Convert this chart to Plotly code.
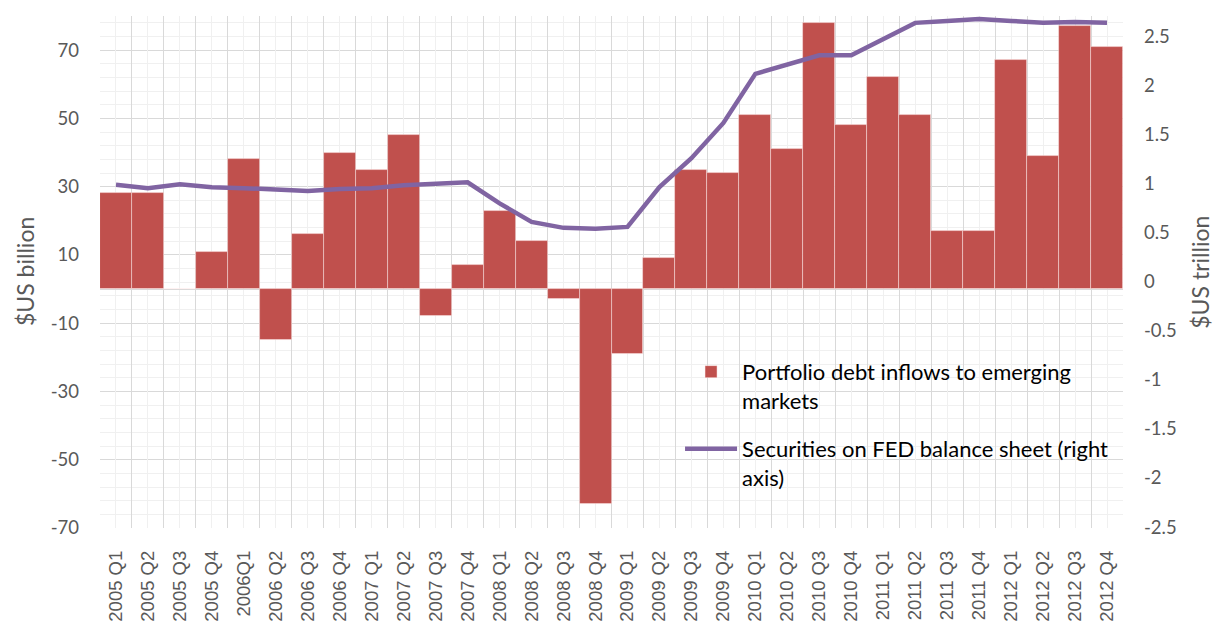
import plotly.graph_objects as go

categories = ["2005 Q1", "2005 Q2", "2005 Q3", "2005 Q4", "2006Q1", "2006 Q2", "2006 Q3", "2006 Q4",
              "2007 Q1", "2007 Q2", "2007 Q3", "2007 Q4", "2008 Q1", "2008 Q2", "2008 Q3", "2008 Q4",
              "2009 Q1", "2009 Q2", "2009 Q3", "2009 Q4", "2010 Q1", "2010 Q2", "2010 Q3", "2010 Q4",
              "2011 Q1", "2011 Q2", "2011 Q3", "2011 Q4", "2012 Q1", "2012 Q2", "2012 Q3", "2012 Q4"]

debt_inflows = [28, 28, 0, 11, 38, -15, 16, 40,
                35, 45, -8, 7, 23, 14, -3, -63,
                -19, 9, 35, 34, 51, 41, 78, 48,
                62, 51, 17, 17, 67, 39, 77, 71]

fed_securities = [0.99, 0.955, 0.995, 0.965, 0.955, 0.935, 0.925, 0.945,
                  0.955, 0.985, 1.005, 1.015, 0.80, 0.61, 0.55, 0.54,
                  0.56, 0.965, 1.26, 1.62, 2.12, 2.21, 2.31, 2.31,
                  2.47, 2.64, 2.66, 2.68, 2.66, 2.64, 2.65, 2.64]

left_tick_vals = [-70, -50, -30, -10, 10, 30, 50, 70]
left_tick_text = ["-70", "-50", "-30", "-10", "10", "30", "50", "70"]
right_tick_vals = [-2.5, -2, -1.5, -1, -0.5, 0, 0.5, 1, 1.5, 2, 2.5]
right_tick_text = ["-2.5", "-2", "-1.5", "-1", "-0.5", "0", "0.5", "1", "1.5", "2", "2.5"]

name_bar = "Portfolio debt inflows to emerging<br>markets"
name_line = "Securities on FED balance sheet (right<br>axis)"

BAR_COLOR = "#C0504D"
LINE_COLOR = "#8064A2"
MAJOR = "#d9d9d9"
MINOR = "#f0f0f0"
TICK_COLOR = "#595959"

fig = go.Figure()
fig.add_trace(go.Bar(
    x=categories, y=debt_inflows, name=name_bar,
    marker=dict(color=BAR_COLOR, line=dict(color="rgba(255,235,235,0.6)", width=0.8)),
    xaxis="x", yaxis="y", legendgroup="a",
))
fig.add_trace(go.Scatter(
    x=categories, y=fed_securities, name=name_line, mode="lines",
    line=dict(color=LINE_COLOR, width=4.5),
    xaxis="x2", yaxis="y2", legendgroup="b",
))

# page body has an 8px margin: figure is sized/offset to compensate
fig.update_layout(
    width=1213, height=618,
    margin=dict(l=92, r=98, t=8, b=98, autoexpand=False),
    paper_bgcolor="white", plot_bgcolor="white",
    bargap=0,
    showlegend=True,
    legend=dict(
        x=0.567, y=0.346, xanchor="left", yanchor="top",
        bgcolor="rgba(0,0,0,0)", font=dict(family="Lato", size=22, color="#000000"),
        itemwidth=52, valign="top", traceorder="grouped", tracegroupgap=17,
    ),
    xaxis=dict(
        type="category", categoryorder="array", categoryarray=categories,
        range=[-0.5, len(categories) - 0.5], automargin=False,
        tickson="boundaries", showgrid=True, gridcolor=MAJOR, gridwidth=1,
        ticks="", tickangle=-90, ticklabelstandoff=18,
        tickfont=dict(family="Liberation Sans", size=18.5, color=TICK_COLOR),
        showline=False, zeroline=False,
    ),
    xaxis2=dict(
        type="category", categoryorder="array", categoryarray=categories,
        range=[-0.5, len(categories) - 0.5], automargin=False,
        overlaying="x", anchor="y2", side="bottom",
        showgrid=True, gridcolor=MINOR, gridwidth=1,
        showticklabels=False, ticks="", showline=False, zeroline=False,
    ),
    yaxis=dict(
        range=[-70, 80], tickmode="array", tickvals=left_tick_vals, ticktext=left_tick_text,
        automargin=False,
        showgrid=True, gridcolor=MAJOR, gridwidth=1,
        minor=dict(tickmode="linear", tick0=-70, dtick=4, showgrid=True, gridcolor=MINOR, gridwidth=1),
        zeroline=True, zerolinecolor=MAJOR, zerolinewidth=1,
        ticks="", ticklabelstandoff=20,
        tickfont=dict(family="Lato", size=18.5, color=TICK_COLOR),
    ),
    yaxis2=dict(
        range=[-2.51, 2.71], tickmode="array", tickvals=right_tick_vals, ticktext=right_tick_text,
        overlaying="y", side="right", anchor="x2", automargin=False,
        showgrid=False, zeroline=False, ticks="", ticklabelstandoff=20,
        tickfont=dict(family="Lato", size=18.5, color=TICK_COLOR),
    ),
    annotations=[
        dict(text="$US billion", xref="paper", yref="paper", x=-0.0733, y=0.5, xanchor="center", yanchor="middle",
             textangle=-90, showarrow=False, font=dict(family="Lato", size=23, color=TICK_COLOR)),
        dict(text="$US trillion", xref="paper", yref="paper", x=1.075, y=0.5, xanchor="center", yanchor="middle",
             textangle=-90, showarrow=False, font=dict(family="Lato", size=23, color=TICK_COLOR)),
    ],
)

fig.write_html("out.html")
